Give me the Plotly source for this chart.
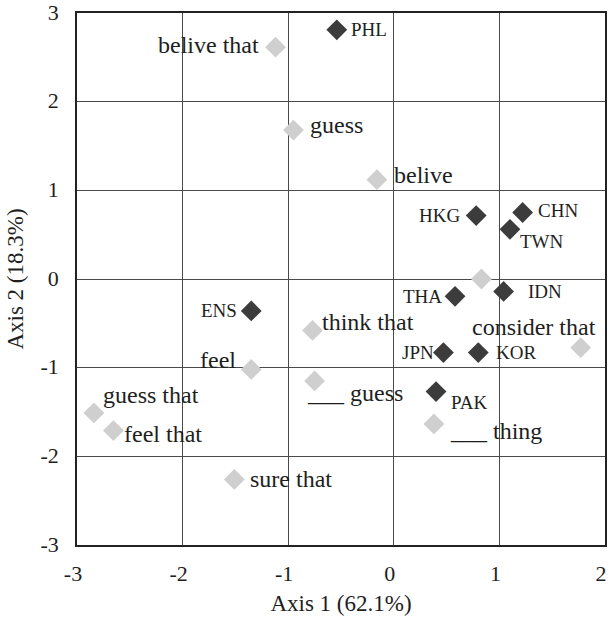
import plotly.graph_objects as go

# Country points (dark)
country_labels = ["PHL", "HKG", "CHN", "TWN", "IDN", "THA", "ENS", "JPN", "KOR", "PAK"]
country_x = [-0.54, 0.78, 1.22, 1.10, 1.04, 0.58, -1.35, 0.47, 0.80, 0.40]
country_y = [2.81, 0.715, 0.75, 0.56, -0.14, -0.195, -0.36, -0.83, -0.83, -1.27]

# Expression points (light)
expr_labels = ["belive that", "guess", "belive", "", "think that", "consider that",
               "feel", "___ guess", "guess that", "feel that", "___ thing", "sure that"]
expr_x = [-1.12, -0.95, -0.16, 0.83, -0.77, 1.77, -1.35, -0.75, -2.84, -2.655, 0.38, -1.51]
expr_y = [2.615, 1.68, 1.12, 0.0, -0.58, -0.775, -1.02, -1.15, -1.51, -1.71, -1.635, -2.26]

x_ticks = [-3, -2, -1, 0, 1, 2]
y_ticks = [-3, -2, -1, 0, 1, 2, 3]

# label placement (style): (xanchor, xshift, yshift)
country_pos = [("left", 14, 0), ("right", -16, 0), ("left", 15, 2), ("left", 10, -12),
               ("left", 24, 0), ("right", -13, 0), ("right", -14, 0), ("right", -9, 0),
               ("left", 18, 0), ("left", 15, -11)]
expr_pos = [("right", -17, 2), ("left", 17, 5), ("left", 17, 5), ("left", 10, 0),
            ("left", 10, 8), ("right", 15, 21), ("right", -15, 9), ("left", -8, -12),
            ("left", 9, 18), ("left", 11, -3), ("left", 16, -7), ("left", 16, 0)]

SERIF = "Liberation Serif"
TXT = "#1e1e1e"

fig = go.Figure()
fig.add_trace(go.Scatter(x=expr_x, y=expr_y, mode="markers",
                         marker=dict(symbol="diamond", size=16, color="#cfcfcf"),
                         hoverinfo="skip", showlegend=False, cliponaxis=False))
fig.add_trace(go.Scatter(x=country_x, y=country_y, mode="markers",
                         marker=dict(symbol="diamond", size=16, color="#3c3c3c"),
                         hoverinfo="skip", showlegend=False, cliponaxis=False))

annotations = []
for lab, x, y, (xa, xs, ys) in zip(country_labels, country_x, country_y, country_pos):
    annotations.append(dict(x=x, y=y, xref="x", yref="y", text=lab, showarrow=False,
                            xanchor=xa, yanchor="middle", xshift=xs, yshift=ys,
                            borderpad=0, borderwidth=0,
                            font=dict(family=SERIF, size=19, color=TXT)))
for lab, x, y, (xa, xs, ys) in zip(expr_labels, expr_x, expr_y, expr_pos):
    if not lab:
        continue
    annotations.append(dict(x=x, y=y, xref="x", yref="y", text=lab, showarrow=False,
                            xanchor=xa, yanchor="middle", xshift=xs, yshift=ys,
                            borderpad=0, borderwidth=0,
                            font=dict(family=SERIF, size=24, color=TXT)))

axis_common = dict(showgrid=True, gridcolor="#4a4a4a", gridwidth=1, automargin=False,
                   showline=True, linecolor="#222222", linewidth=1.5, mirror=True,
                   zeroline=False, ticks="", ticklabeloverflow="allow",
                   tickfont=dict(family=SERIF, size=22, color=TXT))

fig.update_layout(
    width=611, height=629,
    margin=dict(l=77, r=6, t=13, b=84),
    paper_bgcolor="white", plot_bgcolor="white",
    annotations=annotations,
    xaxis=dict(range=[-3, 2], tickvals=x_ticks, ticktext=[str(v) for v in x_ticks],
               ticklabelstandoff=8, ticklabelshift=-4,
               title=dict(text="Axis 1 (62.1%)", font=dict(family=SERIF, size=23, color=TXT),
                          standoff=10),
               **axis_common),
    yaxis=dict(range=[-3, 3], tickvals=y_ticks, ticktext=[str(v) for v in y_ticks],
               ticklabelstandoff=12, ticklabelshift=-1,
               title=dict(text="Axis 2 (18.3%)", font=dict(family=SERIF, size=23, color=TXT),
                          standoff=10),
               **axis_common),
)

fig.write_html("out.html")
